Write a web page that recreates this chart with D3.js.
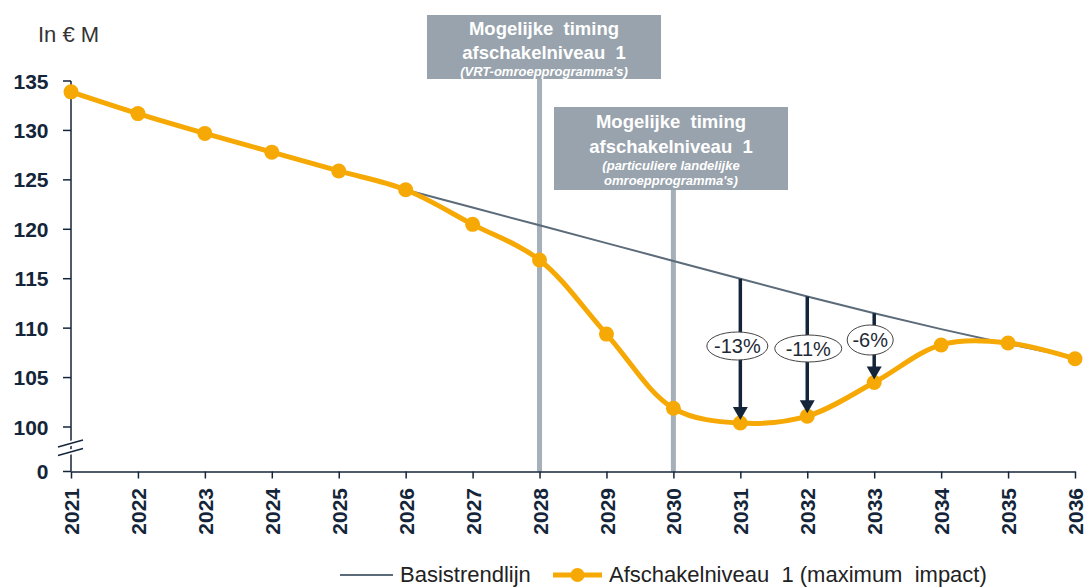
<!DOCTYPE html>
<html><head><meta charset="utf-8">
<script src="https://cdn.jsdelivr.net/npm/d3@7"></script>
<style>body{margin:0;background:#fff;}svg{display:block;font-family:"Liberation Sans",Arial,sans-serif;}</style>
</head><body>
<svg id="c" width="1085" height="588"></svg>
<script>
const years = [2021,2022,2023,2024,2025,2026,2027,2028,2029,2030,2031,2032,2033,2034,2035,2036];
const impact = [133.9,131.7,129.7,127.8,125.9,124.0,120.5,116.9,109.4,101.9,100.4,101.1,104.5,108.3,108.5,106.9];
const trendYears = [2026,2027,2028,2029,2030,2031,2032,2033,2034,2035,2036];
const trend = [124.0,122.2,120.4,118.6,116.8,115.0,113.2,111.5,109.9,108.4,107.0];
const yTicks = [100,105,110,115,120,125,130,135];
const annotations = [
  {year:2028, lines:["Mogelijke  timing","afschakelniveau  1"], sub:["(VRT-omroepprogramma's)"]},
  {year:2030, lines:["Mogelijke  timing","afschakelniveau  1"], sub:["(particuliere landelijke","omroepprogramma's)"]}
];
const diffs = [{year:2031,label:"-13%"},{year:2032,label:"-11%"},{year:2033,label:"-6%"}];
const legendLabels = ["Basistrendlijn","Afschakelniveau  1 (maximum  impact)"];

const svg = d3.select("#c");
const orange = "#f6a904", navy = "#14253a", trendCol = "#5c6b7a", boxCol = "#98a3ad";

const x = d3.scaleLinear().domain([2021,2036]).range([71,1075]);
const y = d3.scaleLinear().domain([100,135]).range([427,81]);
const yZero = 471.5;

// annotation boxes & vertical lines
const boxes = [
  {x0:427,x1:661,y0:15,y1:79, base:[35,59], subBase:[76]},
  {x0:554,x1:788,y0:107,y1:190, base:[128,153], subBase:[170,185]}
];
annotations.forEach((a,i)=>{
  const b = boxes[i];
  svg.append("line").attr("x1",x(a.year)).attr("x2",x(a.year)).attr("y1",b.y1).attr("y2",yZero)
    .attr("stroke","#a6b0b9").attr("stroke-width",5);
  svg.append("rect").attr("x",b.x0).attr("y",b.y0).attr("width",b.x1-b.x0).attr("height",b.y1-b.y0).attr("fill",boxCol);
  const cx=(b.x0+b.x1)/2;
  a.lines.forEach((t,j)=>svg.append("text").attr("x",cx).attr("y",b.base[j]).attr("text-anchor","middle")
    .attr("fill","#fff").attr("font-weight","bold").attr("font-size",18.5).style("white-space","pre").text(t));
  a.sub.forEach((t,j)=>svg.append("text").attr("x",cx).attr("y",b.subBase[j]).attr("text-anchor","middle")
    .attr("fill","#fff").attr("font-style","italic").attr("font-weight","bold").attr("font-size",13).text(t));
});

// y axis
svg.append("line").attr("x1",71).attr("x2",71).attr("y1",y(135)).attr("y2",yZero).attr("stroke",navy).attr("stroke-width",1.5);
yTicks.forEach(v=>{
  svg.append("line").attr("x1",63).attr("x2",71).attr("y1",y(v)).attr("y2",y(v)).attr("stroke",navy).attr("stroke-width",1.5);
  svg.append("text").attr("x",48.5).attr("y",y(v)+7.5).attr("text-anchor","end").attr("font-weight","bold")
    .attr("font-size",21).attr("fill",navy).text(v);
});
svg.append("line").attr("x1",63).attr("x2",71).attr("y1",yZero).attr("y2",yZero).attr("stroke",navy).attr("stroke-width",1.5);
svg.append("text").attr("x",48.5).attr("y",yZero+7.5).attr("text-anchor","end").attr("font-weight","bold").attr("font-size",21).attr("fill",navy).text("0");
// break marks
[0,8.5].forEach(o=>svg.append("line").attr("x1",58).attr("x2",83).attr("y1",447+o).attr("y2",440+o).attr("stroke","#fff").attr("stroke-width",5));
[0,8.5].forEach(o=>svg.append("line").attr("x1",58).attr("x2",83).attr("y1",447+o).attr("y2",440+o).attr("stroke",navy).attr("stroke-width",1.3));
svg.append("text").attr("x",38).attr("y",42).attr("font-size",22).attr("fill","#333").text("In € M");

// x axis
const xAxis = d3.axisBottom(x).tickValues(years).tickFormat(d3.format("d")).tickSize(7).tickSizeOuter(0);
const gx = svg.append("g").attr("transform",`translate(0,${yZero})`).call(xAxis);
gx.select(".domain").attr("stroke",navy).attr("stroke-width",1.5);
gx.selectAll(".tick line").attr("stroke",navy).attr("stroke-width",1.5);
gx.selectAll(".tick text").attr("transform","rotate(-90)").attr("text-anchor","end").attr("x",-16.5).attr("y",0).attr("dy","0.36em")
  .attr("font-size",21).attr("font-weight","bold").attr("fill",navy).attr("font-family","Liberation Sans, Arial, sans-serif");

// trend line
svg.append("path").datum(trendYears.map((yr,i)=>[yr,trend[i]]))
  .attr("d",d3.line().x(d=>x(d[0])).y(d=>y(d[1]))).attr("fill","none").attr("stroke",trendCol).attr("stroke-width",2);

// impact line
const pts = years.map((yr,i)=>[yr,impact[i]]);
svg.append("path").datum(pts).attr("d",d3.line().x(d=>x(d[0])).y(d=>y(d[1])).curve(d3.curveCatmullRom.alpha(0.5)))
  .attr("fill","none").attr("stroke",orange).attr("stroke-width",5);
svg.selectAll("circle.pt").data(pts).enter().append("circle").attr("class","pt")
  .attr("cx",d=>x(d[0])).attr("cy",d=>y(d[1])).attr("r",7.5).attr("fill",orange);

// diff arrows
diffs.forEach(d=>{
  const xx = x(d.year), yt = y(trend[trendYears.indexOf(d.year)]), yb = y(impact[years.indexOf(d.year)]) - 3;
  svg.append("line").attr("x1",xx).attr("x2",xx).attr("y1",yt).attr("y2",yb-11).attr("stroke",navy).attr("stroke-width",3.5);
  svg.append("path").attr("d",`M${xx-7.5},${yb-13}L${xx+7.5},${yb-13}L${xx},${yb}Z`).attr("fill",navy);
});
const ell = [{dx:-3,cy:346,rx:30.5,ry:14},{dx:1,cy:348.5,rx:33.5,ry:13.5},{dx:-4,cy:340,rx:23,ry:15}];
diffs.forEach((d,i)=>{
  const e=ell[i], cx=x(d.year)+e.dx;
  svg.append("ellipse").attr("cx",cx).attr("cy",e.cy).attr("rx",e.rx).attr("ry",e.ry).attr("fill","#fff").attr("stroke","#444").attr("stroke-width",1);
  svg.append("text").attr("x",cx).attr("y",e.cy+7).attr("text-anchor","middle").attr("font-size",20).attr("fill","#1e2a36").text(d.label);
});

// legend
const lg = svg.append("g");
lg.append("line").attr("x1",340).attr("x2",393).attr("y1",575).attr("y2",575).attr("stroke",trendCol).attr("stroke-width",2);
lg.append("text").attr("x",400).attr("y",582).attr("font-size",22).attr("fill","#222").text(legendLabels[0]);
lg.append("line").attr("x1",553).attr("x2",602).attr("y1",575).attr("y2",575).attr("stroke",orange).attr("stroke-width",5);
lg.append("circle").attr("cx",577.5).attr("cy",575).attr("r",7).attr("fill",orange);
lg.append("text").attr("x",609).attr("y",582).attr("font-size",22).attr("fill","#222").style("white-space","pre").text(legendLabels[1]);
</script>
</body></html>
